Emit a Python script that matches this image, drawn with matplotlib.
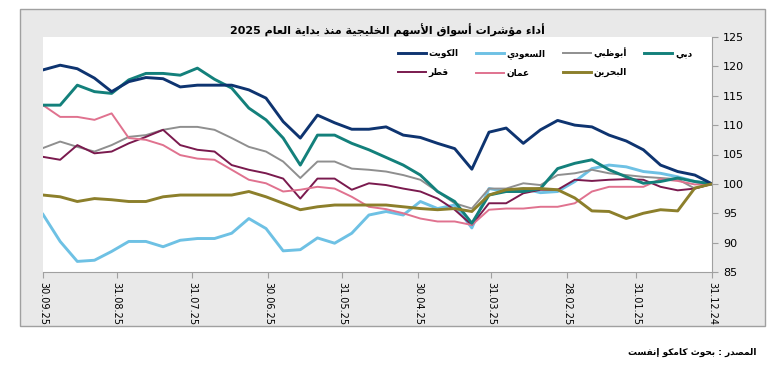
import re
import unicodedata
import pandas as pd
import matplotlib
matplotlib.use("Agg")
import matplotlib.pyplot as plt
from matplotlib.patches import Rectangle


# Arabic shaping: contextual forms from the presentation-forms block, then visual (reversed) order
def _arabic_forms():
    table = {}
    for cp in range(0xFE70, 0xFEFD):
        d = unicodedata.decomposition(chr(cp))
        if not d.startswith('<'):
            continue
        parts = d.split()
        base = ''.join(chr(int(p, 16)) for p in parts[1:])
        table.setdefault(base, {})[parts[0]] = chr(cp)
    return table


FORMS = _arabic_forms()


def ar(text):
    def joins_next(c):
        f = FORMS.get(c, {})
        return '<initial>' in f or '<medial>' in f

    def joins_prev(c):
        return '<final>' in FORMS.get(c, {})

    out = []
    i = 0
    while i < len(text):
        c = text[i]
        if c not in FORMS:
            out.append(c)
            i += 1
            continue
        prev = text[i - 1] if i > 0 else ''
        p = joins_next(prev) and joins_prev(c)
        if c == 'ل' and i + 1 < len(text) and (c + text[i + 1]) in FORMS:
            lig = FORMS[c + text[i + 1]]
            out.append(lig['<final>'] if p else lig['<isolated>'])
            i += 2
            continue
        nxt = text[i + 1] if i + 1 < len(text) else ''
        q = joins_next(c) and joins_prev(nxt)
        tag = '<medial>' if p and q else '<final>' if p else '<initial>' if q else '<isolated>'
        out.append(FORMS[c].get(tag, FORMS[c].get('<isolated>', c)))
        i += 1
    vis = ''.join(out)[::-1]
    return re.sub(r'[0-9.]+', lambda m: m.group(0)[::-1], vis)


# Dane (tygodniowo od 31.12.2024 do 30.09.2025, indeks = 100)
daty = pd.date_range('2024-12-31', periods=40, freq='7D')

kuwait = [100, 101.5, 102.1, 103.2, 105.8, 107.3, 108.3, 109.7, 110.0, 110.8,
          109.2, 106.9, 109.5, 108.8, 102.5, 106.0, 106.9, 107.9, 108.3, 109.7,
          109.3, 109.3, 110.4, 111.7, 107.8, 110.6, 114.6, 116.0, 116.8, 116.8,
          116.8, 116.5, 117.9, 118.1, 117.4, 115.7, 118.0, 119.6, 120.2, 119.4]
saudi = [100, 100.4, 101.2, 101.8, 102.1, 102.9, 103.2, 102.6, 100.4, 98.7,
         98.5, 99.2, 98.7, 99.2, 92.5, 96.4, 95.8, 97.0, 94.7, 95.3,
         94.7, 91.6, 89.9, 90.8, 88.8, 88.6, 92.4, 94.1, 91.6, 90.7,
         90.7, 90.4, 89.3, 90.2, 90.2, 88.5, 87.0, 86.8, 90.2, 94.8]
abudhabi = [100, 99.2, 100.8, 101.0, 101.2, 101.5, 101.8, 102.4, 101.8, 101.5,
            99.8, 100.1, 99.2, 99.2, 95.8, 96.7, 98.7, 100.7, 101.5, 102.1,
            102.4, 102.6, 103.8, 103.8, 101.0, 103.8, 105.5, 106.3, 107.8, 109.2,
            109.7, 109.7, 109.2, 108.3, 108.0, 106.6, 105.5, 106.3, 107.2, 106.1]
dubai = [100, 100.4, 101.0, 100.4, 100.1, 101.2, 102.4, 104.1, 103.5, 102.6,
         99.2, 98.7, 98.7, 98.1, 93.3, 97.0, 98.7, 101.5, 103.2, 104.5,
         105.8, 106.9, 108.3, 108.3, 103.2, 107.8, 110.9, 112.9, 116.3, 117.8,
         119.7, 118.5, 118.8, 118.8, 117.7, 115.4, 115.7, 116.8, 113.4, 113.4]
qatar = [100, 99.2, 98.9, 99.5, 100.7, 100.8, 100.7, 100.5, 100.7, 99.0,
         99.0, 98.4, 96.7, 96.7, 93.0, 95.6, 97.5, 98.7, 99.2, 99.8,
         100.1, 99.0, 100.9, 100.9, 97.5, 100.9, 101.8, 102.4, 103.2, 105.5,
         105.8, 106.6, 109.2, 108.0, 106.9, 105.5, 105.2, 106.6, 104.1, 104.6]
oman = [100, 99.9, 100.5, 100.8, 99.5, 99.5, 99.5, 98.7, 96.7, 96.1,
        96.1, 95.8, 95.8, 95.6, 93.0, 93.6, 93.6, 94.1, 95.0, 95.7,
        96.1, 97.8, 99.2, 99.5, 99.0, 98.7, 100.1, 100.7, 102.4, 104.1,
        104.3, 104.9, 106.6, 107.5, 107.8, 112.0, 110.9, 111.4, 111.4, 113.4]
bahrain = [100, 99.3, 95.4, 95.6, 95.0, 94.1, 95.3, 95.4, 97.6, 99.0,
           99.2, 99.2, 99.0, 98.1, 95.3, 95.8, 95.6, 95.8, 96.1, 96.4,
           96.4, 96.4, 96.4, 96.1, 95.6, 96.7, 97.8, 98.7, 98.1, 98.1,
           98.1, 98.1, 97.8, 97.0, 97.0, 97.3, 97.5, 97.0, 97.8, 98.1]

nazwy = {'kuwait': 'الكويت', 'saudi': 'السعودي', 'abudhabi': 'أبوظبي', 'dubai': 'دبي',
         'qatar': 'قطر', 'oman': 'عمان', 'bahrain': 'البحرين'}

tytul = 'أداء مؤشرات أسواق الأسهم الخليجية منذ بداية العام 2025'
zrodlo = 'المصدر : بحوث كامكو إنفست'

tick_daty = pd.to_datetime(['2024-12-31', '2025-01-31', '2025-02-28', '2025-03-31',
                            '2025-04-30', '2025-05-31', '2025-06-30', '2025-07-31',
                            '2025-08-31', '2025-09-30'])

W, H = 774, 371
fig = plt.figure(figsize=(W / 100, H / 100), dpi=100)
fig.patch.set_facecolor('white')
fig.add_artist(Rectangle((20 / W, 1 - 326 / H), 745 / W, 317 / H, transform=fig.transFigure,
                         facecolor='#e9e9e9', edgecolor='#a0a0a0', lw=1, zorder=-1))

ax = fig.add_axes([43 / W, 1 - 272 / H, (712 - 43) / W, (272 - 37) / H])
ax.set_facecolor('white')

linie = {}
linie['saudi'], = ax.plot(daty, saudi, color='#6ec1e4', lw=2.1)
linie['abudhabi'], = ax.plot(daty, abudhabi, color='#8f8f8f', lw=1.4)
linie['qatar'], = ax.plot(daty, qatar, color='#7a1a4e', lw=1.4)
linie['oman'], = ax.plot(daty, oman, color='#e0728f', lw=1.4)
linie['dubai'], = ax.plot(daty, dubai, color='#13807b', lw=2.1)
linie['kuwait'], = ax.plot(daty, kuwait, color='#0e3470', lw=2.1)
linie['bahrain'], = ax.plot(daty, bahrain, color='#8c7f2b', lw=2.1)

ax.set_xlim(pd.Timestamp('2025-09-30'), pd.Timestamp('2024-12-31'))
ax.set_ylim(85, 125)
ax.set_yticks(range(85, 126, 5))
ax.yaxis.tick_right()
ax.set_xticks(tick_daty)
ax.set_xticklabels([d.strftime('%d.%m.%y') for d in tick_daty])
ax.tick_params(axis='x', rotation=-90, labelsize=7, length=4, color='#a0a0a0', pad=3)
ax.tick_params(axis='y', labelsize=8, length=4, color='#a0a0a0', pad=4)
for s in ['top', 'left']:
    ax.spines[s].set_visible(False)
for s in ['right', 'bottom']:
    ax.spines[s].set_color('#a0a0a0')

kolejnosc = ['kuwait', 'qatar', 'saudi', 'oman', 'abudhabi', 'bahrain', 'dubai']
leg = ax.legend([linie[k] for k in kolejnosc], [ar(nazwy[k]) for k in kolejnosc],
                ncol=4, loc='upper left', bbox_to_anchor=((388 - 43) / 669, 1.0),
                frameon=False, prop={'size': 6.5, 'weight': 'bold'}, handlelength=3.1,
                columnspacing=1.9, handletextpad=0.3, labelspacing=1.15,
                borderaxespad=0.7)

fig.text(387 / W, 1 - 30 / H, ar(tytul), ha='center', va='center', fontsize=8,
         fontweight='bold')
fig.text(757 / W, 1 - 352 / H, ar(zrodlo), ha='right', va='center', fontsize=6.5,
         fontweight='bold')

fig.savefig('out.png', dpi=100)
